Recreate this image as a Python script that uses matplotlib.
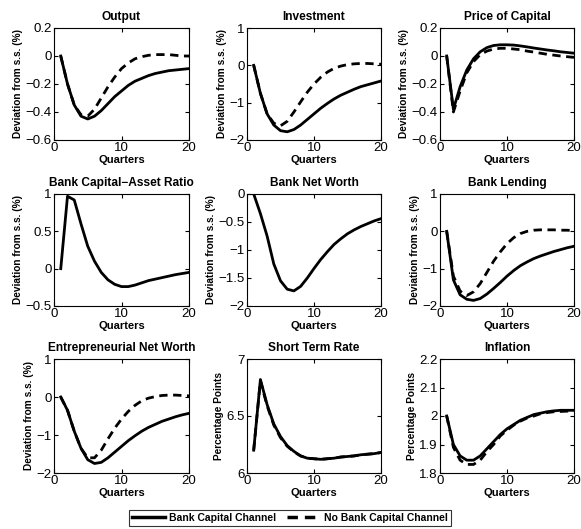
import numpy as np
import matplotlib as mpl
from matplotlib import pyplot as plt
from matplotlib.lines import Line2D

mpl.rcParams['font.family'] = ['Liberation Sans', 'DejaVu Sans']

quarters = np.arange(1, 21)

output_bcc = [0, -0.2, -0.35, -0.43, -0.45, -0.43, -0.39, -0.34, -0.29, -0.25,
              -0.21, -0.18, -0.16, -0.14, -0.125, -0.115, -0.105, -0.10, -0.095, -0.09]
output_nobcc = [0, -0.2, -0.35, -0.42, -0.43, -0.38, -0.30, -0.22, -0.15, -0.09,
                -0.05, -0.02, -0.005, 0.005, 0.01, 0.01, 0.01, 0.005, 0.0, 0.0]

invest_bcc = [0, -0.75, -1.3, -1.6, -1.75, -1.78, -1.72, -1.6, -1.45, -1.3,
              -1.15, -1.02, -0.9, -0.8, -0.72, -0.64, -0.57, -0.52, -0.47, -0.42]
invest_nobcc = [0, -0.75, -1.3, -1.55, -1.62, -1.5, -1.25, -0.98, -0.72, -0.5,
                -0.32, -0.18, -0.08, -0.02, 0.02, 0.04, 0.05, 0.05, 0.04, 0.03]

price_bcc = [0, -0.38, -0.22, -0.1, -0.02, 0.03, 0.06, 0.075, 0.08, 0.08,
             0.078, 0.072, 0.065, 0.057, 0.05, 0.043, 0.037, 0.03, 0.025, 0.02]
price_nobcc = [0, -0.4, -0.25, -0.12, -0.04, 0.01, 0.035, 0.05, 0.055, 0.055,
               0.05, 0.045, 0.035, 0.028, 0.02, 0.012, 0.006, 0.0, -0.005, -0.01]

car_bcc = [0, 0.97, 0.92, 0.6, 0.3, 0.1, -0.05, -0.15, -0.21, -0.24,
           -0.24, -0.22, -0.19, -0.16, -0.14, -0.12, -0.1, -0.08, -0.065, -0.05]

bnw_bcc = [0, -0.35, -0.75, -1.25, -1.55, -1.7, -1.73, -1.65, -1.5, -1.33,
           -1.17, -1.03, -0.9, -0.8, -0.71, -0.64, -0.58, -0.53, -0.48, -0.44]

lend_bcc = [0, -1.3, -1.7, -1.82, -1.85, -1.8, -1.68, -1.53, -1.37, -1.2,
            -1.05, -0.92, -0.82, -0.73, -0.66, -0.6, -0.54, -0.49, -0.44, -0.4]
lend_nobcc = [0, -1.2, -1.6, -1.72, -1.62, -1.4, -1.1, -0.8, -0.55, -0.33,
              -0.17, -0.06, 0.0, 0.03, 0.04, 0.04, 0.04, 0.03, 0.03, 0.02]

enw_bcc = [0, -0.35, -0.9, -1.35, -1.65, -1.75, -1.72, -1.6, -1.45, -1.3,
           -1.15, -1.02, -0.9, -0.8, -0.72, -0.64, -0.58, -0.52, -0.47, -0.43]
enw_nobcc = [0, -0.35, -0.9, -1.35, -1.6, -1.6, -1.4, -1.1, -0.82, -0.58,
             -0.38, -0.22, -0.1, -0.03, 0.01, 0.04, 0.05, 0.05, 0.04, 0.03]

rate_bcc = [6.2, 6.82, 6.6, 6.43, 6.32, 6.24, 6.19, 6.15, 6.13, 6.125,
            6.12, 6.125, 6.13, 6.14, 6.145, 6.15, 6.16, 6.165, 6.17, 6.18]
rate_nobcc = [6.2, 6.81, 6.59, 6.42, 6.31, 6.235, 6.185, 6.15, 6.13, 6.125,
              6.12, 6.125, 6.13, 6.14, 6.145, 6.15, 6.16, 6.165, 6.17, 6.18]

infl_bcc = [2.0, 1.9, 1.86, 1.845, 1.845, 1.86, 1.885, 1.91, 1.935, 1.955,
            1.97, 1.985, 1.995, 2.005, 2.01, 2.015, 2.018, 2.02, 2.02, 2.02]
infl_nobcc = [2.0, 1.89, 1.845, 1.83, 1.83, 1.845, 1.875, 1.9, 1.93, 1.95,
              1.968, 1.982, 1.993, 2.0, 2.008, 2.012, 2.015, 2.016, 2.017, 2.018]

dev = 'Deviation from s.s. (%)'
pp = 'Percentage Points'
m = '\u2212'
panels = [
    ('Output', output_bcc, output_nobcc, (-0.6, 0.2), [-0.6, -0.4, -0.2, 0, 0.2], [m + '0.6', m + '0.4', m + '0.2', '0', '0.2'], dev),
    ('Investment', invest_bcc, invest_nobcc, (-2, 1), [-2, -1, 0, 1], [m + '2', m + '1', '0', '1'], dev),
    ('Price of Capital', price_bcc, price_nobcc, (-0.6, 0.2), [-0.6, -0.4, -0.2, 0, 0.2], [m + '0.6', m + '0.4', m + '0.2', '0', '0.2'], dev),
    ('Bank Capital\u2212Asset Ratio', car_bcc, None, (-0.5, 1), [-0.5, 0, 0.5, 1], [m + '0.5', '0', '0.5', '1'], dev),
    ('Bank Net Worth', bnw_bcc, None, (-2, 0), [-2, -1.5, -1, -0.5, 0], [m + '2', m + '1.5', m + '1', m + '0.5', '0'], dev),
    ('Bank Lending', lend_bcc, lend_nobcc, (-2, 1), [-2, -1, 0, 1], [m + '2', m + '1', '0', '1'], dev),
    ('Entrepreneurial Net Worth', enw_bcc, enw_nobcc, (-2, 1), [-2, -1, 0, 1], [m + '2', m + '1', '0', '1'], dev),
    ('Short Term Rate', rate_bcc, rate_nobcc, (6, 7), [6, 6.5, 7], ['6', '6.5', '7'], pp),
    ('Inflation', infl_bcc, infl_nobcc, (1.8, 2.2), [1.8, 1.9, 2.0, 2.1, 2.2], ['1.8', '1.9', '2', '2.1', '2.2'], pp),
]

W, H = 581, 529
fig = plt.figure(figsize=(W / 100, H / 100), dpi=100)

lefts = [54, 247, 440]
rights = [189, 381, 574]
tops = [28, 194, 359]
bottoms = [140, 306, 473]

for i, (title, bcc, nobcc, ylim, yt, ytl, ylab) in enumerate(panels):
    r, c = divmod(i, 3)
    ax = fig.add_axes([lefts[c] / W, 1 - bottoms[r] / H,
                       (rights[c] - lefts[c]) / W, (bottoms[r] - tops[r]) / H])
    if nobcc is not None:
        ax.plot(quarters, nobcc, color='black', lw=2, ls=(0, (3, 2)))
    ax.plot(quarters, bcc, color='black', lw=2)
    ax.set_xlim(0, 20)
    ax.set_ylim(*ylim)
    ax.set_xticks([0, 10, 20])
    ax.set_yticks(yt)
    ax.set_yticklabels(ytl)
    ax.tick_params(direction='in', top=True, right=True, labelsize=9.5, length=3, pad=1.5)
    ax.set_title(title, fontsize=8.6, fontweight='bold', pad=6)
    ax.set_xlabel('Quarters', fontsize=8, fontweight='bold', labelpad=1)
    ax.set_ylabel(ylab, fontsize=7.3, fontweight='bold', labelpad=2)
    for s in ax.spines.values():
        s.set_linewidth(0.8)

handles = [Line2D([], [], color='black', lw=2.5),
           Line2D([], [], color='black', lw=2.5, ls=(0, (3, 2)))]
leg = fig.legend(handles, ['Bank Capital Channel', 'No Bank Capital Channel'],
                 loc='center', bbox_to_anchor=(290 / W, 1 - 518 / H), ncol=2,
                 fancybox=False, edgecolor='black', handlelength=3.2,
                 columnspacing=1.0, handletextpad=0.4, borderpad=0.3,
                 prop={'size': 7.5, 'weight': 'bold'})
leg.get_frame().set_linewidth(0.8)

fig.savefig('out.png', dpi=100)
